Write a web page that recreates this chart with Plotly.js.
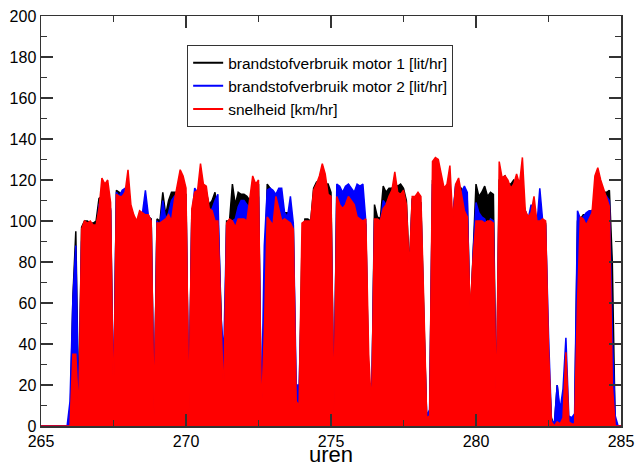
<!DOCTYPE html>
<html>
<head>
<meta charset="utf-8">
<script src="https://cdn.plot.ly/plotly-3.0.1.min.js"></script>
<style>
  html, body { margin: 0; padding: 0; background: #fff; }
  #grafiek { width: 641px; height: 466px; }
</style>
</head>
<body>
<div id="grafiek"></div>
<script>
// tijdas: meetpunten elke 0.1 uur, van 265.0 t/m 285.0
const startUur = 265.0;
const stapUur = 0.1;

// brandstofverbruik motor 1 [lit/hr], per uur een rij van 10 waarden
const motor1 = [
  0, 0, 0, 0, 0, 0, 0, 0, 0, 0,
  0, 63, 95, 8, 97, 100, 100, 99, 99, 100,
  111, 112, 111, 112, 105, 5, 115, 114, 113, 114,
  110, 100, 99, 98, 103, 103, 104, 102, 101, 6,
  101, 100, 114, 103, 110, 114, 114, 114, 115, 114,
  113, 5, 104, 112, 113, 112, 113, 114, 108, 110,
  114, 104, 60, 8, 100, 100, 118, 108, 114, 113,
  113, 112, 110, 110, 112, 118, 4, 60, 118, 116,
  112, 108, 115, 108, 104, 104, 102, 98, 8, 4,
  90, 101, 101, 100, 116, 119, 118, 117, 118, 118,
  114, 5, 115, 114, 110, 112, 118, 112, 110, 108,
  106, 104, 98, 20, 6, 108, 102, 101, 117, 114,
  116, 116, 118, 117, 118, 116, 110, 76, 111, 110,
  110, 109, 55, 3, 3, 120, 118, 116, 114, 115,
  114, 113, 101, 117, 116, 116, 113, 110, 50, 85,
  118, 112, 114, 117, 112, 114, 113, 6, 120, 121,
  122, 118, 118, 120, 119, 115, 110, 106, 100, 101,
  100, 99, 101, 100, 99, 30, 4, 0, 20, 3,
  3, 8, 1, 1, 1, 100, 101, 103, 103, 104,
  105, 108, 110, 112, 114, 114, 115, 80, 0, 0,
  0
];

// brandstofverbruik motor 2 [lit/hr]
const motor2 = [
  0, 0, 0, 0, 0, 0, 0, 0, 0, 0,
  12, 62, 88, 5, 90, 98, 98, 97, 97, 91,
  108, 110, 112, 110, 106, 12, 114, 112, 115, 116,
  108, 100, 98, 96, 102, 104, 115, 103, 100, 4,
  100, 98, 110, 101, 104, 110, 112, 113, 112, 112,
  110, 6, 102, 116, 114, 111, 114, 113, 105, 106,
  110, 113, 55, 35, 98, 99, 100, 101, 107, 110,
  110, 108, 106, 108, 110, 112, 6, 88, 115, 116,
  115, 113, 116, 116, 104, 102, 112, 99, 20, 20,
  70, 100, 99, 99, 108, 112, 112, 113, 113, 112,
  110, 4, 118, 117, 114, 117, 118, 116, 114, 118,
  117, 118, 100, 15, 10, 100, 100, 99, 110, 108,
  111, 112, 113, 112, 111, 107, 104, 70, 110, 108,
  108, 108, 50, 5, 8, 118, 116, 115, 115, 113,
  112, 110, 102, 118, 115, 114, 117, 114, 40, 84,
  109, 104, 102, 101, 97, 101, 100, 5, 116, 115,
  114, 113, 112, 118, 117, 114, 108, 105, 101, 108,
  99, 98, 116, 100, 98, 45, 3, 1, 20, 8,
  18, 43, 5, 4, 6, 105, 101, 102, 104, 105,
  105, 106, 108, 110, 110, 112, 110, 45, 5, 0,
  0
];

// snelheid [km/hr]
const snelheid = [
  0, 0, 0, 0, 0, 0, 0, 0, 0, 0,
  0, 35, 35, 6, 96, 100, 99, 100, 98, 98,
  106, 121, 118, 120, 109, 6, 113, 112, 112, 114,
  125, 108, 103, 100, 105, 104, 103, 103, 100, 5,
  99, 99, 100, 101, 103, 100, 110, 118, 125, 122,
  116, 4, 106, 114, 115, 128, 118, 117, 106, 105,
  100, 100, 60, 12, 99, 101, 100, 97, 101, 101,
  101, 100, 110, 122, 118, 120, 5, 45, 102, 100,
  98, 112, 106, 100, 101, 100, 99, 96, 12, 10,
  99, 100, 100, 100, 115, 118, 122, 128, 123, 113,
  112, 6, 112, 108, 106, 108, 112, 110, 108, 102,
  101, 100, 101, 35, 8, 101, 101, 100, 106, 108,
  112, 115, 124, 114, 113, 115, 108, 76, 112, 112,
  114, 112, 60, 4, 5, 129, 131, 130, 123, 116,
  118, 127, 100, 118, 121, 112, 105, 102, 55, 82,
  100, 100, 100, 99, 100, 100, 99, 8, 129, 121,
  122, 120, 116, 118, 123, 118, 131, 105, 102, 104,
  112, 100, 100, 101, 100, 38, 2, 0, 2, 1,
  4, 36, 2, 1, 1, 60, 102, 101, 98, 101,
  104, 122, 126, 120, 116, 111, 107, 20, 0, 0,
  0
];

const namen = [
  "brandstofverbruik motor 1 [lit/hr]",
  "brandstofverbruik motor 2 [lit/hr]",
  "snelheid [km/hr]"
];
const kleuren = ["#000000", "#0000ff", "#ff0000"];

const uren = motor1.map((_, i) => +(startUur + i * stapUur).toFixed(2));

const reeksen = [motor1, motor2, snelheid];
const data = [];

reeksen.forEach(function (y, k) {
    data.push({
        x: uren,
        y: y,
        type: "scatter",
        mode: "lines",
        fill: "tozeroy",
        fillcolor: kleuren[k],
        line: { color: kleuren[k], width: 1.5 },
        showlegend: false,
        hoverinfo: "skip"
    });
});

// alleen voor de legenda (lijnsymbool)
reeksen.forEach(function (y, k) {
    data.push({
        x: [null],
        y: [null],
        type: "scatter",
        mode: "lines",
        name: namen[k],
        line: { color: kleuren[k], width: 2 }
    });
});

const asStijl = {
    showline: true,
    linecolor: "#333",
    linewidth: 1.5,
    mirror: "allticks",
    ticks: "inside",
    ticklen: 12,
    tickwidth: 1.5,
    tickcolor: "#333",
    showgrid: false,
    zeroline: false,
    tickfont: { family: "Liberation Sans, Arial, sans-serif", size: 16, color: "#000" }
};

const layout = {
    width: 641,
    height: 466,
    margin: { l: 41, r: 20, t: 16, b: 40 },
    paper_bgcolor: "#fff",
    plot_bgcolor: "#fff",
    font: { family: "Liberation Sans, Arial, sans-serif", color: "#000" },
    xaxis: Object.assign({}, asStijl, {
        range: [265, 285],
        tick0: 265,
        dtick: 5,
        minor: { dtick: 2.5, ticks: "inside", ticklen: 6, tickwidth: 1.5, tickcolor: "#333" }
    }),
    yaxis: Object.assign({}, asStijl, {
        range: [0, 200],
        tick0: 0,
        dtick: 20,
        minor: { dtick: 10, ticks: "inside", ticklen: 6, tickwidth: 1.5, tickcolor: "#333" }
    }),
    annotations: [{
        text: "uren",
        xref: "paper",
        yref: "paper",
        x: 0.5,
        y: -0.106,
        xanchor: "center",
        yanchor: "bottom",
        showarrow: false,
        font: { size: 22, color: "#000" }
    }],
    legend: {
        x: 0.252,
        y: 0.929,
        xanchor: "left",
        yanchor: "top",
        bgcolor: "#fff",
        bordercolor: "#333",
        borderwidth: 1,
        font: { size: 15.5, color: "#000" },
        tracegroupgap: 0
    },
    showlegend: true
};

Plotly.newPlot("grafiek", data, layout, { displayModeBar: false, staticPlot: true });
</script>
</body>
</html>
